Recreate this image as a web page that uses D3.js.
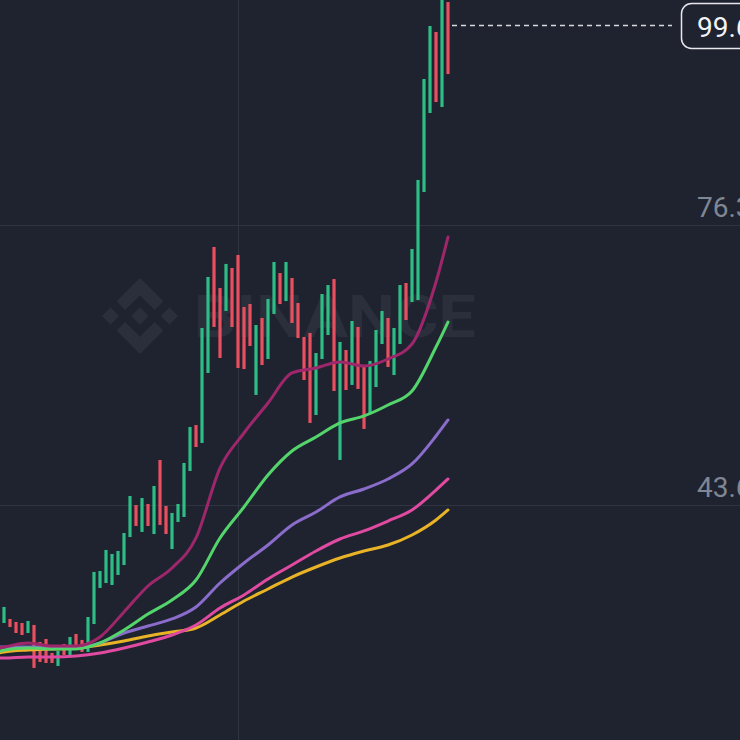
<!DOCTYPE html>
<html>
<head>
<meta charset="utf-8">
<script src="https://cdn.jsdelivr.net/npm/d3@7"></script>
<style>
  html, body { margin: 0; padding: 0; background: #1f2330; overflow: hidden; }
  svg { display: block; }
</style>
</head>
<body>
<svg id="chart" width="740" height="740"></svg>
<script>
// ---- data ----
const opens  = [29.82,30.29,29.94,29.82,28.65,29.59,27.60,27.95,26.32,24.80,27.37,26.08,28.54,27.84,26.44,29.70,33.91,34.49,34.26,35.43,36.59,39.86,43.60,40.45,43.72,40.21,48.86,43.49,38.46,41.62,42.20,47.57,52.94,50.84,59.02,73.73,68.94,66.26,71.28,72.80,66.72,67.07,56.45,65.44,60.65,65.91,70.69,67.42,70.11,67.19,63.22,63.69,54.11,60.65,63.45,69.99,48.86,61.70,57.62,64.39,59.72,54.35,57.38,62.40,65.44,58.78,62.40,69.53,67.31,67.54,80.15,89.38,98.84,90.08,102.34];
const closes = [31.69,29.35,28.65,28.42,30.06,24.57,25.27,25.15,25.15,26.55,26.08,28.19,26.90,26.44,30.52,35.78,35.89,38.35,37.88,38.23,40.33,44.65,41.15,44.42,41.15,45.82,41.27,40.21,42.67,43.72,48.51,52.71,50.37,64.27,70.23,64.39,60.77,71.75,64.39,59.60,59.48,62.17,64.62,59.95,67.66,71.98,67.07,71.98,64.86,63.10,58.20,53.18,61.35,68.24,69.29,56.91,62.64,57.03,65.09,57.15,52.48,60.42,64.04,66.26,59.72,64.27,69.29,65.21,73.50,81.56,93.35,99.54,90.66,103.16,93.93];
const highs  = opens.map((o, i) => Math.max(o, closes[i]));
const lows   = opens.map((o, i) => Math.min(o, closes[i]));

// moving averages sampled at candle indices
const maIndex  = [-1, 0, 4, 8, 12, 16, 20, 24, 28, 32, 36, 40, 44, 48, 52, 56, 60, 64, 68, 72, 74];
const maRed    = [26.90,27.02,27.49,27.14,27.14,28.19,31.11,34.14,36.24,39.75,47.92,52.01,55.51,59.02,59.60,60.30,59.83,60.65,62.40,69.64,74.90];
const maGreen  = [26.44,26.67,26.90,26.79,26.79,27.49,29.00,30.87,32.51,34.84,39.75,43.37,47.10,49.91,51.54,53.18,54.00,55.28,56.91,62.05,64.97];
const maPurple = [27.02,27.02,27.02,27.02,26.90,27.49,28.65,29.47,30.29,31.69,34.49,36.83,38.93,41.27,42.78,44.54,45.47,46.64,48.39,51.66,53.53];
const maPink   = [25.73,25.73,25.85,25.85,25.97,26.32,26.90,27.60,28.42,29.59,31.57,33.09,34.96,36.59,38.23,39.63,40.57,41.73,43.02,45.35,46.64];
const maOrange = [26.32,26.44,26.67,26.79,26.90,27.25,27.72,28.30,28.77,29.24,30.76,32.39,33.79,35.19,36.36,37.41,38.23,38.93,40.10,41.85,43.02];

const yTicks = [76.3, 43.6];
const lastPrice = 99.6;
const gridCandle = 39;

// ---- styles ----
const BG = "#1f2330";
const UP = "#2ebd85";
const DOWN = "#e9505f";

const svg = d3.select("#chart");
svg.append("rect").attr("width", 740).attr("height", 740).attr("fill", BG);

const x = d3.scaleLinear().domain([0, 74]).range([4, 448]);
const y = d3.scaleLinear().domain([43.6, 76.3]).range([505, 225]);

// grid
svg.selectAll("line.hgrid").data(yTicks).join("line")
  .attr("x1", 0).attr("x2", 740)
  .attr("y1", d => Math.round(y(d)) + 0.5).attr("y2", d => Math.round(y(d)) + 0.5)
  .attr("stroke", "#2f3440").attr("stroke-width", 1);
svg.append("line")
  .attr("x1", Math.round(x(gridCandle)) + 0.5).attr("x2", Math.round(x(gridCandle)) + 0.5)
  .attr("y1", 0).attr("y2", 740)
  .attr("stroke", "#2f3440").attr("stroke-width", 1);

// watermark
const wm = svg.append("g").attr("fill", "#2a2f3b");
wm.append("path")
  .attr("transform", "translate(102,278) scale(0.6)")
  .attr("d", "M38.73 53.2L63.3 28.63L87.88 53.21L102.18 38.92L63.3 0L24.42 38.92Z M0 63.31L14.3 49.01L28.59 63.31L14.3 77.6Z M38.73 73.41L63.3 97.99L87.88 73.41L102.18 87.7L63.3 126.61L24.42 87.7Z M98.02 63.31L112.32 49.01L126.61 63.31L112.32 77.61Z M77.81 63.3L63.3 48.78L48.79 63.28L63.3 77.83Z");
wm.append("text")
  .attr("x", 194).attr("y", 337)
  .attr("font-family", "Roboto, 'Open Sans', sans-serif")
  .attr("font-weight", 700).attr("font-size", 59)
  .attr("textLength", 282).attr("lengthAdjust", "spacingAndGlyphs")
  .text("BINANCE");

// candles
const candles = d3.range(opens.length);
svg.append("g").selectAll("rect").data(candles).join("rect")
  .attr("x", i => x(i) - 1.6)
  .attr("width", 3.2)
  .attr("y", i => y(highs[i]))
  .attr("height", i => Math.max(1, y(lows[i]) - y(highs[i])))
  .attr("fill", i => closes[i] >= opens[i] ? UP : DOWN);

// moving averages
const maSeries = [
  { values: maOrange, color: "#e8b326" },
  { values: maPink,   color: "#e04aa0" },
  { values: maPurple, color: "#8a6ccb" },
  { values: maGreen,  color: "#54d56c" },
  { values: maRed,    color: "#9e276b" }
];
const line = d3.line().x(d => x(d[0])).y(d => y(d[1])).curve(d3.curveMonotoneX);
svg.append("g").selectAll("path").data(maSeries).join("path")
  .attr("d", s => line(maIndex.map((k, j) => [k, s.values[j]])))
  .attr("fill", "none")
  .attr("stroke", s => s.color)
  .attr("stroke-width", 3)
  .attr("stroke-linejoin", "round")
  .attr("stroke-linecap", "round");

// axis labels
svg.selectAll("text.ytick").data(yTicks).join("text")
  .attr("class", "ytick")
  .attr("x", 697).attr("y", d => y(d) - 8)
  .attr("font-family", "Roboto, sans-serif").attr("font-size", 28)
  .attr("fill", "#7f8794")
  .text(d => d3.format(".1f")(d));

// last price line and label
svg.append("line")
  .attr("x1", 452).attr("x2", 672)
  .attr("y1", y(lastPrice)).attr("y2", y(lastPrice))
  .attr("stroke", "#d5d8dc").attr("stroke-width", 1.4)
  .attr("stroke-dasharray", "5,4");
svg.append("rect")
  .attr("x", 681.5).attr("y", 3.5).attr("width", 90).attr("height", 45).attr("rx", 10)
  .attr("fill", BG).attr("stroke", "#e6e8ea").attr("stroke-width", 1.5);
svg.append("text")
  .attr("x", 697).attr("y", 37)
  .attr("font-family", "Roboto, sans-serif").attr("font-size", 28)
  .attr("fill", "#f2f3f5")
  .text(d3.format(".1f")(lastPrice));
</script>
</body>
</html>
